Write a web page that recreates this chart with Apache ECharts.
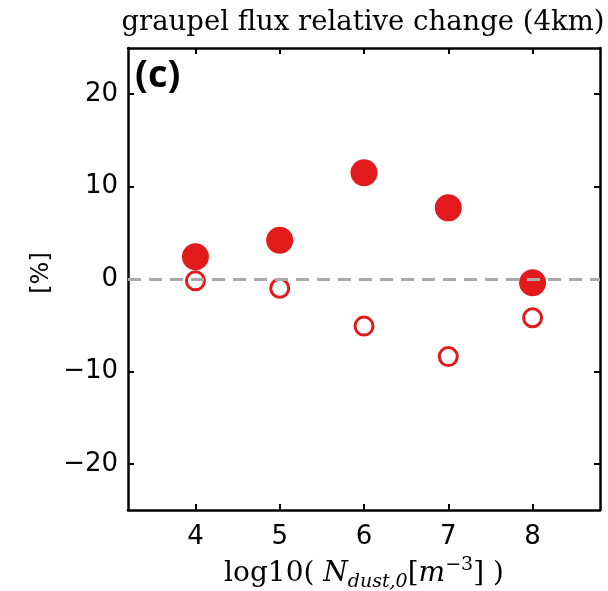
<!DOCTYPE html>
<html><head><meta charset="utf-8">
<script src="https://cdn.jsdelivr.net/npm/echarts@6/dist/echarts.min.js"></script>
<style>html,body{margin:0;padding:0;background:#fff}#c{width:608px;height:591px}</style>
</head><body><div id="c"></div>
<script>
const xValues = [4, 5, 6, 7, 8];
const filledValues = [2.4, 4.2, 11.5, 7.7, -0.4];
const openValues = [-0.2, -1.0, -5.1, -8.4, -4.2];
const xTicks = [4, 5, 6, 7, 8];
const yTicks = [-20, -10, 0, 10, 20];
const titleText = 'graupel flux relative change (4km)';

const chart = echarts.init(document.getElementById('c'), null, {renderer: 'canvas'});
const red = '#e31a1c';
const tickStyle = {show: true, inside: true, length: 6, lineStyle: {color: '#000', width: 2}};
const axLine = {show: true, onZero: false, lineStyle: {color: '#000', width: 2.5}};
const fmt = v => (v < 0 ? '\u2212' + Math.abs(v) : String(v));
const xBase = {type: 'value', min: 3.2, max: 8.8, splitLine: {show: false}, axisLine: axLine};
const yBase = {type: 'value', min: -25, max: 25, splitLine: {show: false}, axisLine: axLine};

chart.setOption({
  animation: false,
  grid: {left: 128, right: 8, top: 48, bottom: 81, show: false},
  xAxis: [
    Object.assign({}, xBase, {position: 'bottom',
      axisTick: Object.assign({customValues: xTicks}, tickStyle),
      axisLabel: {customValues: xTicks, formatter: fmt, color: '#000', fontFamily: 'DejaVu Sans', fontSize: 26, margin: 14}}),
    Object.assign({}, xBase, {position: 'top',
      axisTick: Object.assign({customValues: xTicks}, tickStyle),
      axisLabel: {show: false}})
  ],
  yAxis: [
    Object.assign({}, yBase, {position: 'left',
      axisTick: Object.assign({customValues: yTicks}, tickStyle),
      axisLabel: {customValues: yTicks, formatter: fmt, color: '#000', fontFamily: 'DejaVu Sans', fontSize: 26, margin: 10}}),
    Object.assign({}, yBase, {position: 'right',
      axisTick: Object.assign({customValues: yTicks}, tickStyle),
      axisLabel: {show: false}})
  ],
  graphic: [
    {type: 'text', x: 363, y: 23, style: {text: titleText, font: '27.5px "DejaVu Serif"', fill: '#000', align: 'center', verticalAlign: 'middle'}},
    {type: 'text', x: 135, y: 76, style: {text: '(c)', font: 'bold 38px "Open Sans"', fill: '#000', verticalAlign: 'middle'}},
    {type: 'text', x: 42, y: 273, rotation: Math.PI / 2, style: {text: '[%]', font: '24px "DejaVu Sans"', fill: '#000', align: 'center', verticalAlign: 'middle'}},
    {type: 'text', x: 364, y: 574, style: {
      text: '{a|log10( }{i|N}{sub|dust,0}{a|[}{i|m}{sup|\u22123}{a|] )}',
      align: 'center', verticalAlign: 'middle', fill: '#000',
      rich: {
        a: {font: '28px "DejaVu Serif"', lineHeight: 36, verticalAlign: 'middle'},
        i: {font: 'italic 28px "DejaVu Serif"', lineHeight: 36, verticalAlign: 'middle'},
        sub: {font: 'italic 19px "DejaVu Serif"', lineHeight: 36, verticalAlign: 'bottom'},
        sup: {font: '19px "DejaVu Serif"', lineHeight: 36, verticalAlign: 'top'}
      }}}
  ],
  series: [
    {type: 'line', data: [], z: 1, markLine: {silent: true, symbol: 'none', label: {show: false},
      lineStyle: {color: '#aaaaaa', width: 3, type: [13, 8]}, data: [{yAxis: 0}]}},
    {type: 'scatter', z: 2, symbol: 'circle', symbolSize: 27, itemStyle: {color: red, opacity: 1},
      data: xValues.map((x, i) => [x, filledValues[i]])},
    {type: 'scatter', z: 3, symbol: 'circle', symbolSize: 18, itemStyle: {color: '#fff', borderColor: red, borderWidth: 3, opacity: 1},
      data: xValues.map((x, i) => [x, openValues[i]])}
  ]
});
</script></body></html>
